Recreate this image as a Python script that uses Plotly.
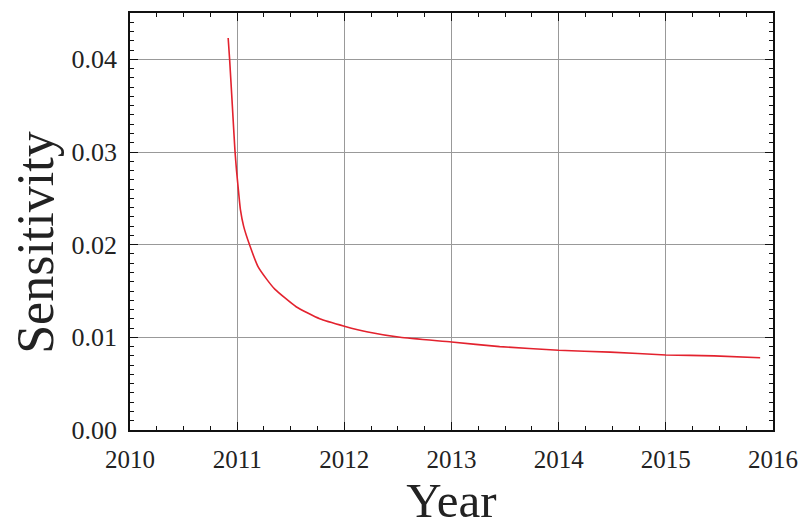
import plotly.graph_objects as go

years = [2010.916, 2010.929, 2010.955, 2010.979, 2010.994, 2011.009, 2011.03, 2011.06,
         2011.118, 2011.196, 2011.28, 2011.351, 2011.55, 2011.77, 2012.0, 2012.22,
         2012.52, 2013.0, 2013.45, 2014.0, 2014.48, 2015.0, 2015.45, 2015.88]
sensitivity = [0.0423, 0.0401, 0.0350, 0.0302, 0.0280, 0.0262, 0.0238, 0.0220,
               0.0199, 0.0176, 0.0162, 0.0152, 0.0133, 0.0120, 0.0112, 0.01057,
               0.0100, 0.0095, 0.0090, 0.0086, 0.0084, 0.0081, 0.0080, 0.0078]

x_ticks = [2010, 2011, 2012, 2013, 2014, 2015, 2016]
y_ticks = [0.00, 0.01, 0.02, 0.03, 0.04]

fig = go.Figure()
fig.add_trace(go.Scatter(x=years, y=sensitivity, mode="lines",
                         line=dict(color="#e3222e", width=1.6, shape="spline", smoothing=0.5),
                         showlegend=False))

font = "Liberation Serif, Times New Roman, serif"
fig.update_layout(
    width=807, height=527,
    margin=dict(l=122, r=42, t=3, b=105),
    paper_bgcolor="white", plot_bgcolor="white",
    font=dict(family=font, color="#222"),
    xaxis=dict(range=[2010, 2016], tickvals=x_ticks, ticktext=[str(v) for v in x_ticks],
               showgrid=True, gridcolor="#999999", gridwidth=1,
               showline=True, linecolor="#111", linewidth=1.5, mirror="allticks",
               ticks="inside", ticklen=8, tickwidth=1.2, tickcolor="#111",
               minor=dict(dtick=0.25, ticks="inside", ticklen=4, tickwidth=1, tickcolor="#111", showgrid=False),
               tickfont=dict(size=25, family=font, color="#222"),
               ticklabelstandoff=6,
               title=dict(text="Year", font=dict(size=49, family=font, color="#222"), standoff=8),
               zeroline=False),
    yaxis=dict(range=[0, 0.045], tickvals=y_ticks, tickformat=".2f",
               showgrid=True, gridcolor="#999999", gridwidth=1,
               showline=True, linecolor="#111", linewidth=1.5, mirror="allticks",
               ticks="inside", ticklen=8, tickwidth=1.2, tickcolor="#111",
               minor=dict(dtick=0.001, ticks="inside", ticklen=4, tickwidth=1, tickcolor="#111", showgrid=False),
               tickfont=dict(size=26, family=font, color="#222"),
               ticklabelstandoff=6,
               zeroline=False),
    annotations=[dict(text="Sensitivity", textangle=-90, xref="paper", yref="paper",
                      x=-0.147, y=0.45, xanchor="center", yanchor="middle", showarrow=False,
                      font=dict(size=52, family=font, color="#222"))],
)

fig.write_html("out.html")
